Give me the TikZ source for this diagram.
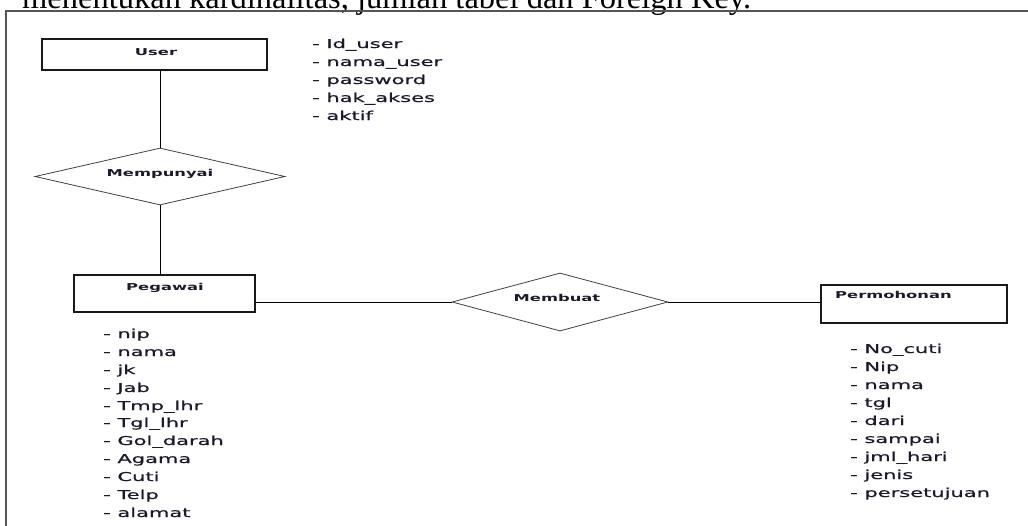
\documentclass[tikz,border=0pt]{standalone}
\usepackage{graphicx}
\usepackage{fontspec}
\usetikzlibrary{shapes.geometric}
\newfontfamily\attrfont[FakeBold=0.6]{DejaVu Sans}
\newfontfamily\lblfont{DejaVu Sans}
\newfontfamily\titlefont{Liberation Serif}
\newcommand\sx[1]{\scalebox{1.72}[1]{#1}}
\definecolor{txt}{HTML}{1A1A2A}
\definecolor{frame}{HTML}{555555}
\tikzset{
  entity/.style={draw=black!90, line width=1.3pt, rectangle, inner sep=0pt},
  relation/.style={draw=black!75, line width=0.8pt, diamond, inner sep=0pt, aspect=1},
  conn/.style={draw=black, line width=1pt},
  attr/.style={anchor=base west, inner sep=0pt, text=txt, font=\attrfont\fontsize{12.2}{14}\selectfont},
  lbl/.style={anchor=base, inner sep=0pt, text=txt, font=\lblfont\bfseries\fontsize{9.5}{11}\selectfont},
}
\begin{document}
\begin{tikzpicture}[x=1pt,y=-1pt]
\useasboundingbox (0,0) rectangle (1028,525);
\clip (0,0) rectangle (1028,525);
% cut-off heading line
\node[anchor=base west, inner sep=0pt, font=\titlefont\fontsize{32.5}{36}\selectfont] (heading) at (22,8) {menentukan kardinalitas, jumlah tabel dan Foreign Key.};
% frame
\coordinate (fr1) at (1030,11);
\coordinate (fr2) at (6,11);
\coordinate (fr3) at (6,527);
\draw[draw=frame, line width=1.2pt] (fr1) -- (fr2) -- (fr3);
% entities
\node[entity, minimum width=225pt, minimum height=31pt] (user) at (154.5,54.5) {};
\node[entity, minimum width=181pt, minimum height=37pt] (pegawai) at (164.5,293.5) {};
\node[entity, minimum width=186pt, minimum height=38pt] (perm) at (914,304) {};
% relations
\node[relation, minimum width=250pt, minimum height=57pt] (mempunyai) at (160,176.5) {};
\node[relation, minimum width=216pt, minimum height=58pt] (membuat) at (560,302) {};
% labels
\node[lbl] (luser) at (156,55) {\sx{User}};
\node[lbl] (lmemp) at (160,176) {\sx{Mempunyai}};
\node[lbl] (lpeg) at (165,290) {\sx{Pegawai}};
\node[lbl] (lmemb) at (557,301) {\sx{Membuat}};
\node[lbl, anchor=base west] (lperm) at (835,298) {\sx{Permohonan}};
% connectors
\draw[conn] (mempunyai.north |- user.south) -- (mempunyai.north);
\draw[conn] (mempunyai.south) -- (mempunyai.south |- pegawai.north);
\draw[conn] (membuat.west -| pegawai.east) -- (membuat.west);
\draw[conn] (membuat.east) -- (membuat.east -| perm.west);
% attributes of User
\node[attr] (u1) at (312,48) {\sx{- Id\_user}};
\node[attr] (u2) at (312,66) {\sx{- nama\_user}};
\node[attr] (u3) at (312,84) {\sx{- password}};
\node[attr] (u4) at (312,102) {\sx{- hak\_akses}};
\node[attr] (u5) at (312,120) {\sx{- aktif}};
% attributes of Pegawai
\node[attr] (p1) at (103,338) {\sx{- nip}};
\node[attr] (p2) at (103,356) {\sx{- nama}};
\node[attr] (p3) at (103,374) {\sx{- jk}};
\node[attr] (p4) at (103,392) {\sx{- Jab}};
\node[attr] (p5) at (103,410) {\sx{- Tmp\_lhr}};
\node[attr] (p6) at (103,427) {\sx{- Tgl\_lhr}};
\node[attr] (p7) at (103,445) {\sx{- Gol\_darah}};
\node[attr] (p8) at (103,463) {\sx{- Agama}};
\node[attr] (p9) at (103,481) {\sx{- Cuti}};
\node[attr] (p10) at (103,499) {\sx{- Telp}};
\node[attr] (p11) at (103,517) {\sx{- alamat}};
% attributes of Permohonan
\node[attr] (q1) at (850,353) {\sx{- No\_cuti}};
\node[attr] (q2) at (850,371) {\sx{- Nip}};
\node[attr] (q3) at (850,389) {\sx{- nama}};
\node[attr] (q4) at (850,407) {\sx{- tgl}};
\node[attr] (q5) at (850,425) {\sx{- dari}};
\node[attr] (q6) at (850,443) {\sx{- sampai}};
\node[attr] (q7) at (850,461) {\sx{- jml\_hari}};
\node[attr] (q8) at (850,479) {\sx{- jenis}};
\node[attr] (q9) at (850,497) {\sx{- persetujuan}};
\end{tikzpicture}
\end{document}
